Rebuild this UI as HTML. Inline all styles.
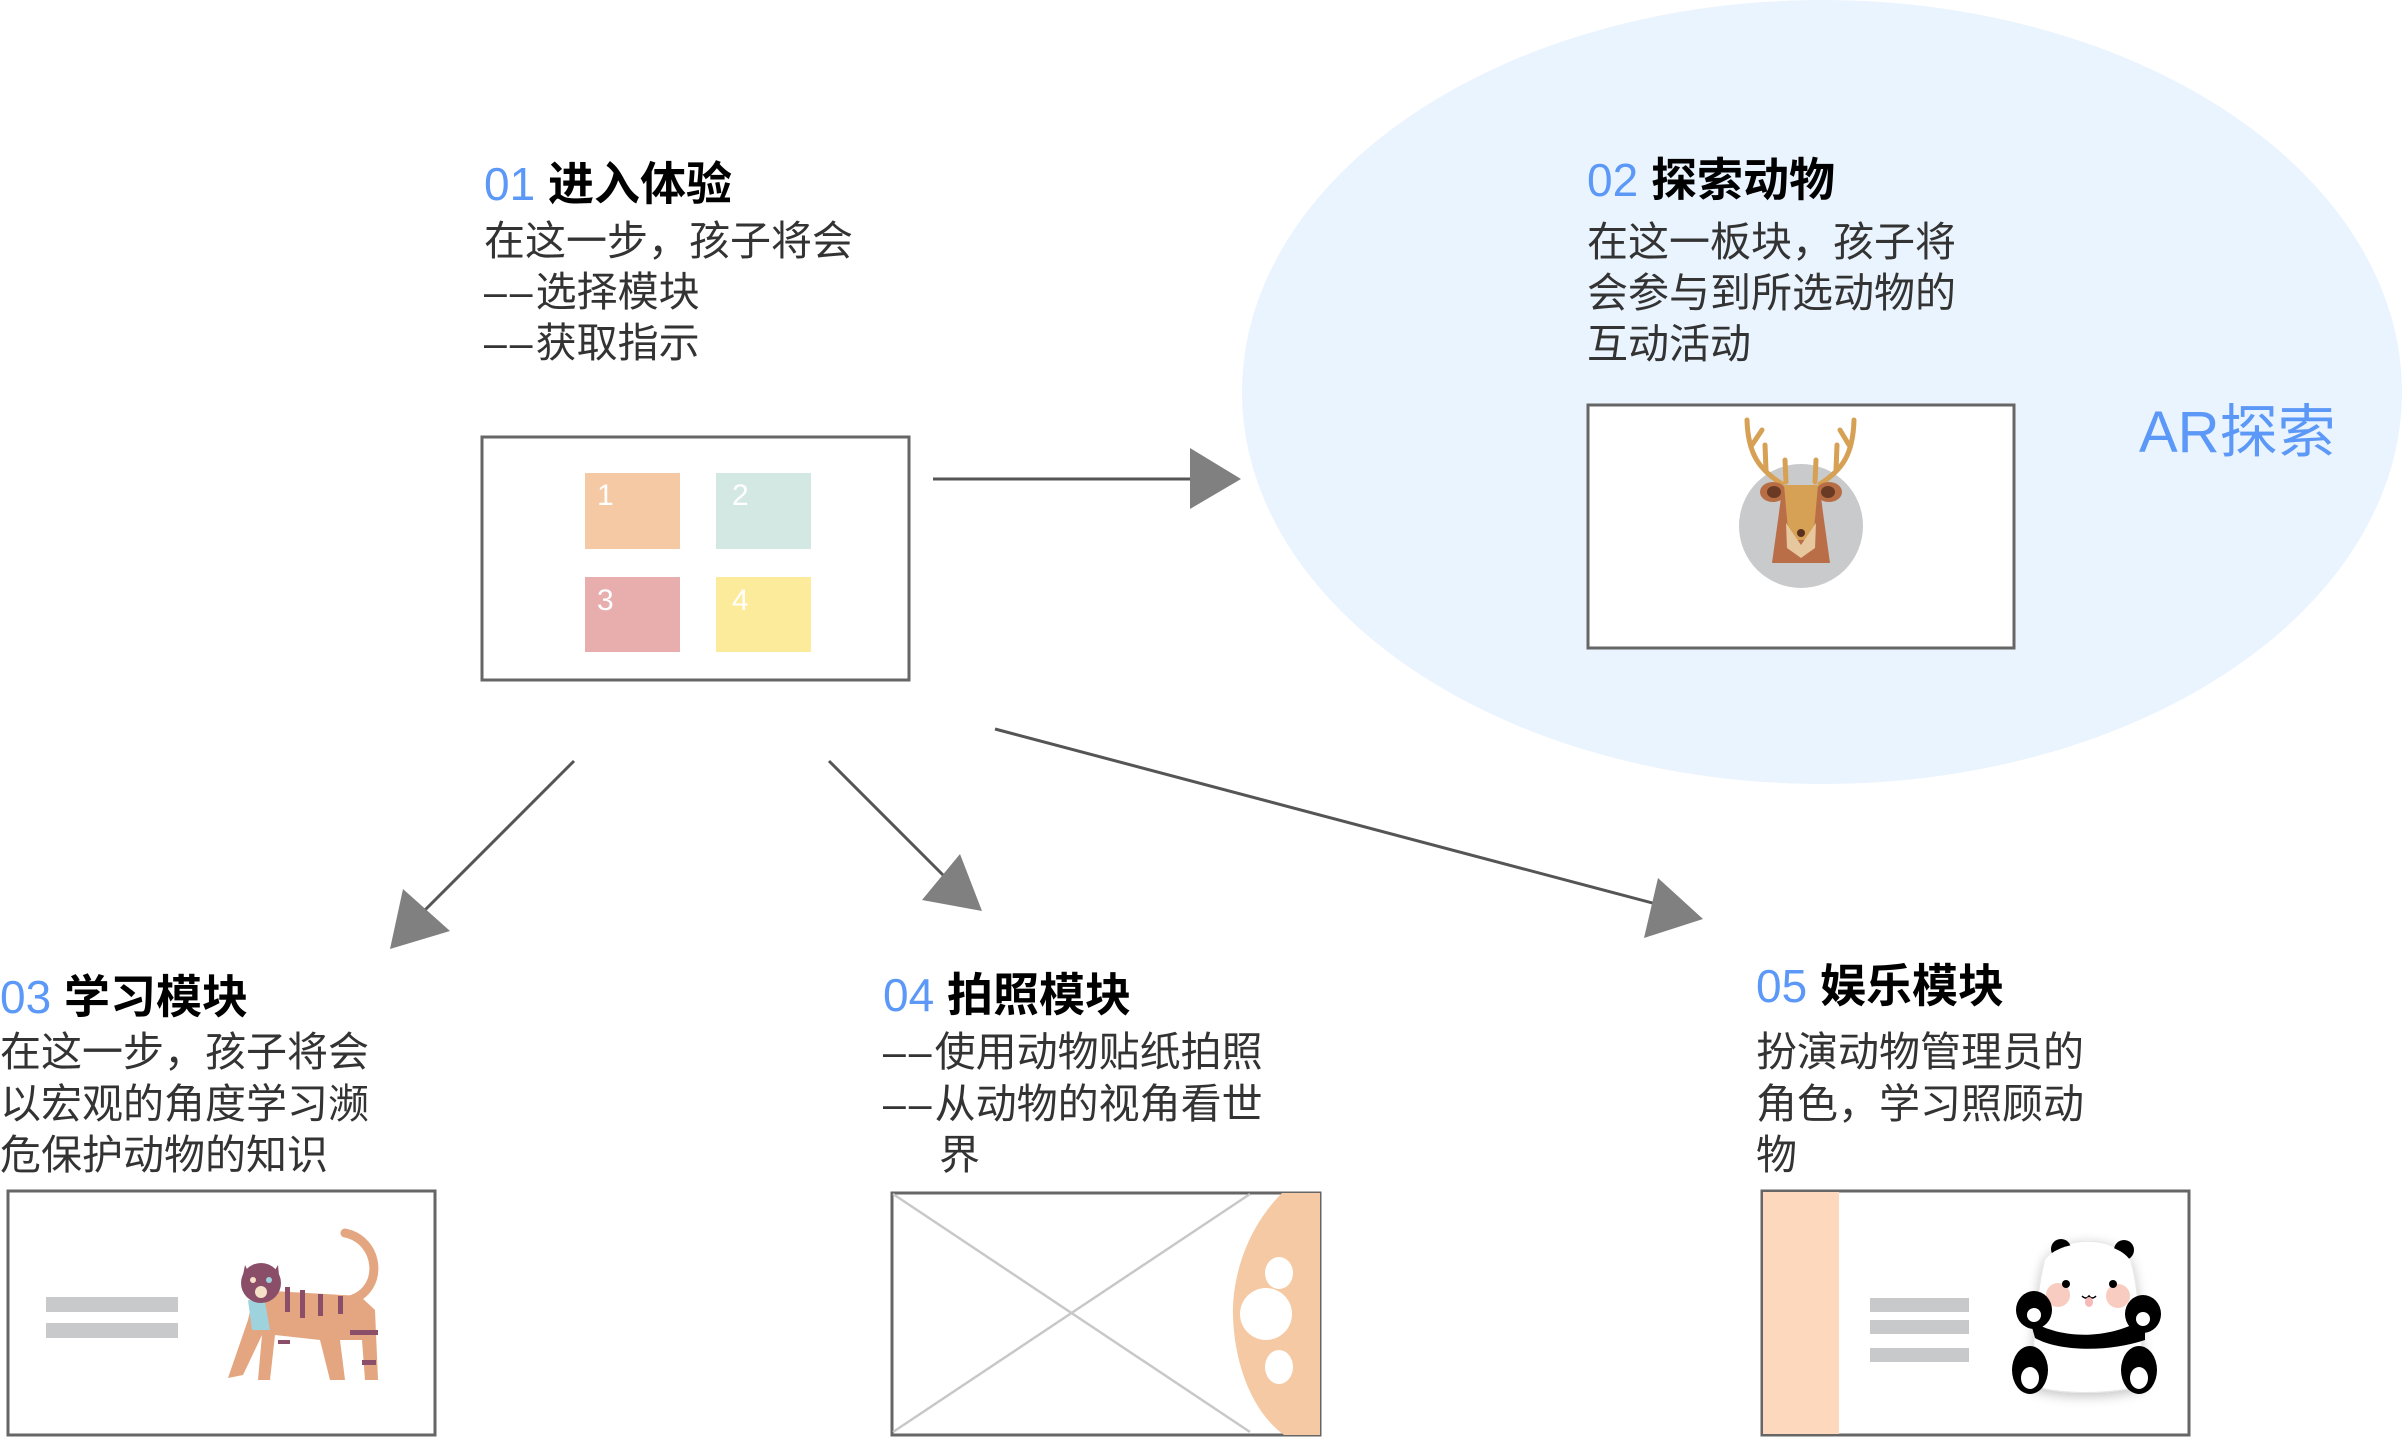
<!DOCTYPE html>
<html><head><meta charset="utf-8"><style>
html,body{margin:0;padding:0;background:#fff;}
svg{display:block;}
text{font-family:"Liberation Sans","Noto Sans CJK SC",sans-serif;}
.t{font-size:46px;font-weight:bold;fill:#000;}
.n{fill:#5B98F7;font-weight:normal;}
.b{font-size:41px;fill:#333;}
.d{font-family:"Liberation Sans",sans-serif;letter-spacing:3px;}
</style></head><body>
<svg width="2404" height="1439" viewBox="0 0 2404 1439" xmlns="http://www.w3.org/2000/svg">
<defs><filter id="sh" x="-30%" y="-30%" width="160%" height="160%"><feGaussianBlur in="SourceAlpha" stdDeviation="6"/><feOffset dx="0" dy="3"/><feComponentTransfer><feFuncA type="linear" slope="0.25"/></feComponentTransfer><feMerge><feMergeNode/><feMergeNode in="SourceGraphic"/></feMerge></filter></defs>
<ellipse cx="1822" cy="392" rx="580" ry="392" fill="#EAF4FE"/>

<!-- 01 -->
<text class="t" x="484" y="200"><tspan class="n">01</tspan> 进入体验</text>
<text class="b" x="484" y="255">在这一步，孩子将会</text>
<text class="b" x="484" y="306"><tspan class="d">––</tspan>选择模块</text>
<text class="b" x="484" y="357"><tspan class="d">––</tspan>获取指示</text>
<rect x="482" y="437" width="427" height="243" fill="#fff" stroke="#666" stroke-width="3"/>
<rect x="585" y="473" width="95" height="76" fill="#F4C9A3"/>
<rect x="716" y="473" width="95" height="76" fill="#D4E8E3"/>
<rect x="585" y="577" width="95" height="75" fill="#E8AEAE"/>
<rect x="716" y="577" width="95" height="75" fill="#FCEB9A"/>
<text x="597" y="505" font-size="30" fill="#fff">1</text>
<text x="732" y="505" font-size="30" fill="#fff">2</text>
<text x="597" y="610" font-size="30" fill="#fff">3</text>
<text x="732" y="610" font-size="30" fill="#fff">4</text>

<!-- arrows -->
<g stroke="#555" stroke-width="3">
<line x1="933" y1="479" x2="1192" y2="479"/>
<line x1="574" y1="761" x2="420" y2="915"/>
<line x1="829" y1="761" x2="945" y2="877"/>
<line x1="995" y1="729" x2="1660" y2="905"/>
</g>
<g fill="#808080">
<polygon points="1190,448 1241,479 1190,509"/>
<polygon points="390,949 403,889 450,931"/>
<polygon points="982,911 960,854 922,900"/>
<polygon points="1703,919 1658,878 1644,938"/>
</g>

<!-- 02 -->
<text class="t" x="1587" y="196"><tspan class="n">02</tspan> 探索动物</text>
<text class="b" x="1587" y="256">在这一板块，孩子将</text>
<text class="b" x="1587" y="307">会参与到所选动物的</text>
<text class="b" x="1587" y="358">互动活动</text>
<rect x="1588" y="405" width="426" height="243" fill="#fff" stroke="#666" stroke-width="3"/>
<text x="2139" y="452" font-size="58" fill="#5B98F7">AR探索</text>
<!-- deer -->
<circle cx="1801" cy="526" r="62" fill="#C9CACC"/>
<g stroke="#D6A055" stroke-width="5" fill="none" stroke-linecap="round">
<path d="M1782,484 C1760,470 1748,455 1747,420"/><path d="M1752,445 L1762,430"/><path d="M1766,470 L1765,445"/>
<path d="M1820,484 C1842,470 1853,455 1854,420"/><path d="M1849,445 L1840,430"/><path d="M1836,470 L1837,445"/>
<path d="M1786,482 L1785,460"/><path d="M1815,482 L1816,460"/>
</g>
<ellipse cx="1773" cy="492" rx="13" ry="10" fill="#B86E45"/><ellipse cx="1829" cy="492" rx="13" ry="10" fill="#B86E45"/>
<ellipse cx="1774" cy="492" rx="7" ry="6" fill="#6B3A25"/><ellipse cx="1828" cy="492" rx="7" ry="6" fill="#6B3A25"/>
<path d="M1772,563 L1778,520 L1782,490 L1820,490 L1824,520 L1830,563 Z" fill="#BA6E48"/>
<path d="M1784,485 L1818,485 L1814,530 L1805,540 L1797,540 L1788,530 Z" fill="#D6A055"/>
<path d="M1786,523 L1801,545 L1816,523 L1815,548 L1801,558 L1787,548 Z" fill="#E6C79E"/>
<circle cx="1801" cy="533" r="4" fill="#5A3020"/>

<!-- 03 -->
<text class="t" x="0" y="1013"><tspan class="n">03</tspan> 学习模块</text>
<text class="b" x="0" y="1066">在这一步，孩子将会</text>
<text class="b" x="0" y="1118">以宏观的角度学习濒</text>
<text class="b" x="0" y="1169">危保护动物的知识</text>
<rect x="8" y="1191" width="427" height="244" fill="#fff" stroke="#666" stroke-width="3"/>
<rect x="46" y="1297" width="132" height="15" fill="#C8C9CB"/>
<rect x="46" y="1323" width="132" height="15" fill="#C8C9CB"/>
<!-- tiger -->
<path d="M350,1300 C385,1290 380,1240 345,1233" stroke="#E4A581" stroke-width="9" fill="none" stroke-linecap="round"/>
<path d="M255,1290 L360,1296 L375,1310 L378,1380 L365,1380 L362,1340 L340,1340 L345,1380 L330,1380 L320,1340 L275,1335 L270,1380 L258,1380 L262,1335 L243,1375 L228,1378 L248,1320 Z" fill="#E4A581"/>
<path d="M248,1300 L265,1302 L270,1330 L252,1330 Z" fill="#9ED3DE"/>
<g fill="#8B4E69"><rect x="285" y="1287" width="5" height="25"/><rect x="300" y="1290" width="5" height="28"/><rect x="318" y="1294" width="5" height="22"/><rect x="338" y="1296" width="5" height="18"/><rect x="350" y="1330" width="28" height="5"/><rect x="362" y="1360" width="14" height="5"/><rect x="278" y="1340" width="12" height="4"/></g>
<circle cx="261" cy="1283" r="20" fill="#8B4E69"/>
<path d="M245,1265 L250,1275 L243,1275 Z M278,1265 L272,1275 L279,1275 Z" fill="#8B4E69"/>
<circle cx="261" cy="1292" r="6" fill="#F5E0C8"/>
<circle cx="253" cy="1280" r="3" fill="#F5E0C8"/><circle cx="269" cy="1280" r="3" fill="#9ED3DE"/>

<!-- 04 -->
<text class="t" x="883" y="1011"><tspan class="n">04</tspan> 拍照模块</text>
<text class="b" x="883" y="1066"><tspan class="d">––</tspan>使用动物贴纸拍照</text>
<text class="b" x="883" y="1118"><tspan class="d">––</tspan>从动物的视角看世</text>
<text class="b" x="939" y="1169">界</text>
<rect x="892" y="1193" width="428" height="242" fill="#fff" stroke="#666" stroke-width="3"/>
<g stroke="#C8C8C8" stroke-width="2.5"><line x1="893" y1="1194" x2="1250" y2="1432"/><line x1="893" y1="1432" x2="1250" y2="1194"/></g>
<path d="M1320,1193 L1282,1193 C1245,1230 1232,1280 1233,1315 C1234,1360 1250,1410 1284,1435 L1320,1435 Z" fill="#F4C9A3"/>
<ellipse cx="1279" cy="1273" rx="14" ry="16" fill="#fff"/>
<ellipse cx="1266" cy="1314" rx="26" ry="26" fill="#fff"/>
<ellipse cx="1279" cy="1367" rx="14" ry="17" fill="#fff"/>

<!-- 05 -->
<text class="t" x="1756" y="1002"><tspan class="n">05</tspan> 娱乐模块</text>
<text class="b" x="1756" y="1066">扮演动物管理员的</text>
<text class="b" x="1756" y="1118">角色，学习照顾动</text>
<text class="b" x="1756" y="1169">物</text>
<rect x="1762" y="1191" width="427" height="244" fill="#fff" stroke="#666" stroke-width="3"/>
<rect x="1763" y="1192" width="76" height="242" fill="#FDD8BD"/>
<rect x="1870" y="1298" width="99" height="14" fill="#C8C9CB"/>
<rect x="1870" y="1320" width="99" height="14" fill="#C8C9CB"/>
<rect x="1870" y="1348" width="99" height="14" fill="#C8C9CB"/>
<!-- panda -->
<path filter="url(#sh)" d="M2045,1260 C2060,1235 2115,1235 2130,1260 C2140,1290 2140,1340 2145,1385 C2110,1395 2060,1395 2030,1385 C2035,1340 2036,1290 2045,1260 Z" fill="#fff" stroke="#e6e6e6"/>
<circle cx="2061" cy="1249" r="10" fill="#000"/><circle cx="2124" cy="1250" r="10" fill="#000"/>
<path d="M2045,1260 C2060,1238 2115,1238 2130,1260 C2136,1280 2137,1300 2138,1320 L2040,1320 C2040,1300 2040,1280 2045,1260 Z" fill="#fff"/>
<circle cx="2058" cy="1295" r="12" fill="#F8CCC0"/><circle cx="2118" cy="1296" r="12" fill="#F8CCC0"/>
<circle cx="2066" cy="1284" r="4" fill="#000"/><circle cx="2113" cy="1284" r="4" fill="#000"/>
<path d="M2082,1296 q4,4 7,0 q3,4 7,0" stroke="#000" stroke-width="1.5" fill="none"/>
<ellipse cx="2089" cy="1302" rx="4" ry="5" fill="#F7B8B8"/>
<path d="M2030,1320 C2060,1340 2110,1340 2145,1318 L2145,1340 C2110,1352 2060,1352 2035,1338 Z" fill="#000"/>
<ellipse cx="2034" cy="1310" rx="18" ry="19" fill="#000"/><ellipse cx="2143" cy="1314" rx="18" ry="19" fill="#000"/>
<ellipse cx="2030" cy="1370" rx="18" ry="24" fill="#000"/><ellipse cx="2139" cy="1370" rx="18" ry="24" fill="#000"/>
<ellipse cx="2034" cy="1315" rx="7" ry="7" fill="#fff"/><ellipse cx="2143" cy="1319" rx="7" ry="7" fill="#fff"/>
<ellipse cx="2030" cy="1378" rx="9" ry="11" fill="#fff"/><ellipse cx="2139" cy="1378" rx="9" ry="11" fill="#fff"/>
</svg>
</body></html>
